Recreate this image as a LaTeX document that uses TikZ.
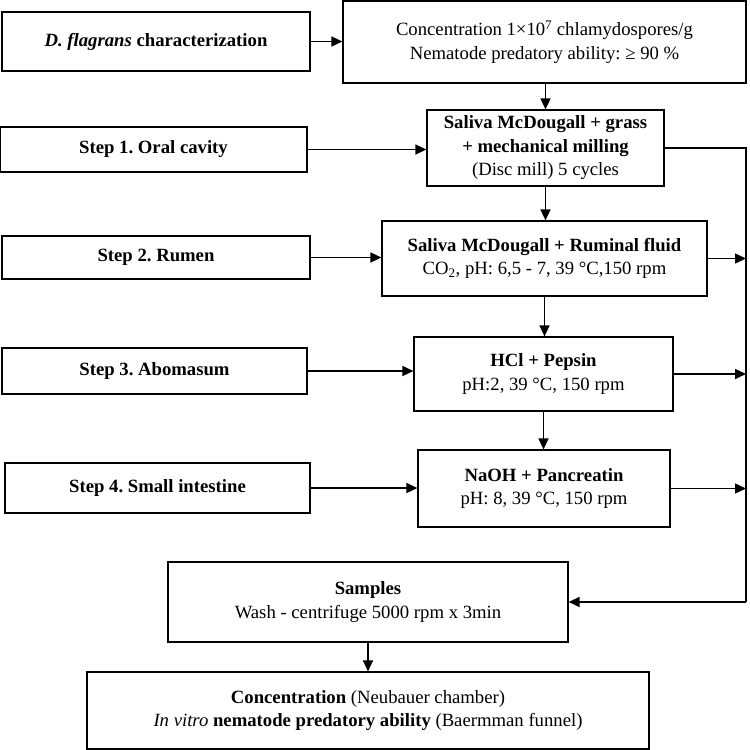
\documentclass[tikz,border=0pt]{standalone}
\usepackage{fontspec}
\setmainfont{Liberation Serif}
\usepackage{tikz}
\usetikzlibrary{arrows.meta}
\frenchspacing

\begin{document}
\begin{tikzpicture}[x=1pt,y=-1pt,
		box/.style = {draw, line width=1.2pt, rectangle, align=center, inner sep=0pt},
		arr/.style = {line width=1.5pt, -{Triangle[length=11pt,width=10pt]}}]
				\useasboundingbox (0,0) rectangle (750,750);
				\begin{scope}[every node/.style={box,font=\fontsize{18.7}{23.5}\selectfont}]
					\node[minimum width=308, minimum height=59] (char) at (156,41.5) {\textbf{\textit{D. flagrans}} \textbf{characterization}};
					\node[minimum width=403, minimum height=82] (conc) at (544.5,42) {Concentration 1×10\textsuperscript{7} chlamydospores/g\\Nematode predatory ability: ≥ 90 \%};
					\node[minimum width=307, minimum height=45] (stepA) at (153.5,149.5) {\textbf{Step 1. Oral cavity}};
					\node[minimum width=308, minimum height=43] (stepB) at (156,257.5) {\textbf{Step 2. Rumen}};
					\node[minimum width=305, minimum height=46] (stepC) at (154.5,371) {\textbf{Step 3. Abomasum}};
					\node[minimum width=305, minimum height=50] (stepD) at (157.5,488) {\textbf{Step 4. Small intestine}};
					\node[minimum width=237, minimum height=76] (oral) at (545.5,148) {\textbf{Saliva McDougall + grass}\\\textbf{+ mechanical milling}\\(Disc mill) 5 cycles};
					\node[minimum width=325, minimum height=75] (rumen) at (544.5,258.5) {\textbf{Saliva McDougall + Ruminal fluid}\\CO\textsubscript{2}, pH: 6,5 - 7, 39 °C,150 rpm};
					\node[minimum width=259, minimum height=74] (aboma) at (543.5,374) {\textbf{HCl + Pepsin}\\pH:2, 39 °C, 150 rpm};
					\node[minimum width=252, minimum height=77] (intest) at (544,488.5) {\textbf{NaOH + Pancreatin}\\pH: 8, 39 °C, 150 rpm};
					\node[minimum width=400, minimum height=80] (samples) at (368,602) {\textbf{Samples}\\Wash - centrifuge 5000 rpm x 3min};
					\node[minimum width=562, minimum height=77] (result) at (368,710.5) {\textbf{Concentration} (Neubauer chamber)\\\textit{In vitro} \textbf{nematode predatory ability} (Baermman funnel)};
				\end{scope}
				\coordinate (busTop) at (746,148);
				\coordinate (busBot) at (746,602);
				\draw [arr] (char) -- (conc.west |- char);
				\draw [arr] (conc.south -| oral) -- (oral.north);
				\draw [arr] (stepA.east) -- (stepA.east -| oral.west);
				\draw [arr] (oral.south) -- (rumen.north -| oral);
				\draw [arr] (stepB.east) -- (stepB.east -| rumen.west);
				\draw [arr] (rumen.south) -- (aboma.north -| rumen);
				\draw [arr] (stepC.east) -- (stepC.east -| aboma.west);
				\draw [arr] (aboma.south) -- (intest.north -| aboma);
				\draw [arr] (stepD.east) -- (stepD.east -| intest.west);
				\draw [line width=1.5pt] (oral.east |- busTop) -- (busTop) -- (busBot);
				\draw [arr] (rumen.east) -- (rumen.east -| busTop);
				\draw [arr] (aboma.east) -- (aboma.east -| busTop);
				\draw [arr] (intest.east) -- (intest.east -| busTop);
				\draw [arr] (busBot) -- (samples.east |- busBot);
				\draw [arr] (samples.south) -- (result.north -| samples);
			\end{tikzpicture}
\end{document}
